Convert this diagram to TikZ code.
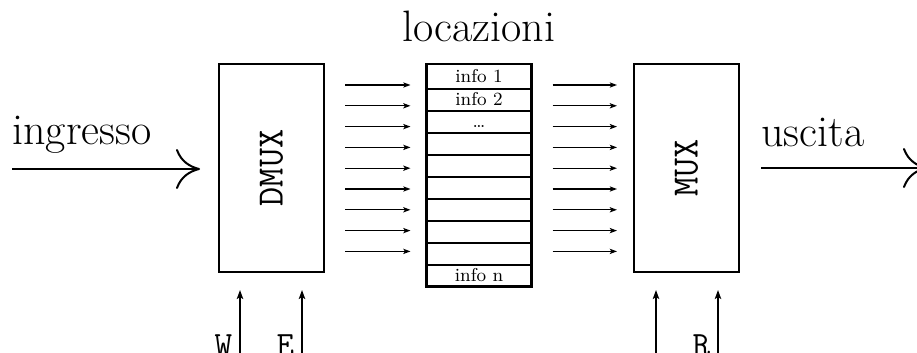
\documentclass[tikz,border=0pt]{standalone}
\usepackage{graphicx}
\usetikzlibrary{positioning,arrows.meta}

\tikzstyle{blk} = [rectangle, draw, line width=1pt, minimum width=52.5pt, minimum height=104pt, inner sep=0pt, font=\fontsize{18.6}{22}\selectfont\ttfamily]
\tikzstyle{cell} = [rectangle, draw, line width=0.5pt, minimum width=52pt, minimum height=10.45pt, inner sep=0pt, text height=7.9pt, text depth=2.5pt, font=\fontsize{9.3}{11}\selectfont]
\tikzstyle{big} = [font=\fontsize{22}{26}\selectfont, inner sep=0pt]
\tikzstyle{ctl} = [font=\fontsize{17}{20}\selectfont\ttfamily, inner sep=0pt]
\tikzstyle{bus} = [line width=0.65pt, -{Stealth[length=3.6pt,width=2.6pt,inset=0.8pt]}]
\tikzstyle{sel} = [line width=0.9pt, -{Stealth[length=4.5pt,width=3.2pt,inset=1pt]}]
\tikzstyle{io} = [line width=1pt, -{Computer Modern Rightarrow[width=20pt,length=12pt,line width=1pt]}]

\begin{document}
\begin{tikzpicture}[x=0.5pt, y=-0.5pt]
  \useasboundingbox (0,0) rectangle (917,353);
  % blocks
  \node[blk] (dmux) at (271.5,168) {\rotatebox{90}{DMUX}};
  \node[blk] (mux) at (686.5,168) {\rotatebox{90}{MUX}};
  % memory cells
  \node[cell, minimum height=12.25pt] (r1) at (479,76.75) {info 1};
  \foreach \t [count=\i from 2] in {info 2,\dots,{},{},{},{},{},{},info n}{
    \pgfmathtruncatemacro{\j}{\i-1}
    \node[cell, below=0pt of r\j] (r\i) {\t};
  }
  \draw[line width=1.2pt] (r1.north west) rectangle (r10.south east);
  \node[big, anchor=base] (loc) at ([yshift=11pt]r1.north) {locazioni};
  % buses
  \foreach \k in {0,...,8}{
    \pgfmathsetmacro{\y}{85+20.8*\k}
    \draw[bus, shorten <=10pt, shorten >=8pt] (dmux.east |- 0,\y) -- (r1.west |- 0,\y);
    \draw[bus, shorten <=10.5pt, shorten >=8pt] (r1.east |- 0,\y) -- (mux.west |- 0,\y);
  }
  % input / output
  \coordinate (in) at (12,169);
  \coordinate (out) at (927,168);
  \draw[io, shorten >=9pt] (in) -- (dmux.west |- in);
  \node[big, anchor=base west] (ing) at ([yshift=12pt]in) {ingresso};
  \draw[io, shorten <=10.5pt] (mux.east) -- (out);
  \node[big, anchor=base west] (usc) at ([xshift=10.5pt,yshift=10.5pt]mux.east) {uscita};
  % control lines
  \coordinate (cw) at (240,356);
  \coordinate (ce) at (302,356);
  \coordinate (cx) at (656,356);
  \coordinate (cr) at (718,356);
  \draw[sel, shorten >=8.5pt] ([yshift=-10pt]cw) -- (cw |- dmux.south);
  \draw[sel, shorten >=8.5pt] ([yshift=-10pt]ce) -- (ce |- dmux.south);
  \draw[sel, shorten >=8.5pt] ([yshift=-10pt]cx) -- (cx |- mux.south);
  \draw[sel, shorten >=8.5pt] ([yshift=-10pt]cr) -- (cr |- mux.south);
  \node[ctl, anchor=base east] (lw) at ([xshift=-3.75pt]cw) {W};
  \node[ctl, anchor=base east] (le) at ([xshift=-3.75pt]ce) {E};
  \node[ctl, anchor=base east] (lr) at ([xshift=-3.75pt]cr) {R};
\end{tikzpicture}
\end{document}
